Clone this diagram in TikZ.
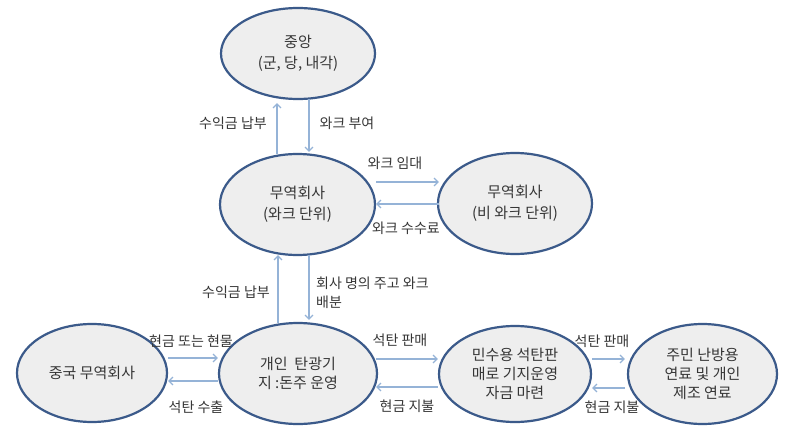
\documentclass[tikz,border=0pt]{standalone}
\usepackage{fontspec}
\setmainfont{Noto Sans CJK KR}
\usetikzlibrary{shapes.geometric,arrows.meta}
\definecolor{ebord}{HTML}{3B5A8A}
\definecolor{efill}{HTML}{EEEEEE}
\definecolor{arrc}{HTML}{95B3D7}
\definecolor{txt}{HTML}{363636}
\tikzset{
  oval/.style={ellipse, draw=ebord, fill=efill, line width=2.2pt, inner sep=0pt,
    text=txt, align=center, font=\fontsize{15}{21}\selectfont},
  arr/.style={draw=arrc, line width=1.2pt, -{Straight Barb[length=4pt,width=8pt]}},
  lbl/.style={text=txt, font=\fontsize{14}{18}\selectfont, inner sep=0pt}
}
\begin{document}
\begin{tikzpicture}[x=1pt,y=-1pt]
\useasboundingbox[fill=white] (0,0) rectangle (800,441);
% nodes
\node[oval, minimum width=154pt, minimum height=91pt] (n1) at (298,53.5) {중앙\\(군, 당, 내각)};
\node[oval, minimum width=155pt, minimum height=101pt] (n2) at (297.5,204.5) {무역회사\\(와크 단위)};
\node[oval, minimum width=154pt, minimum height=101pt] (n3) at (515,203.5) {무역회사\\(비 와크 단위)};
\node[oval, minimum width=150pt, minimum height=98pt] (n4) at (92,373) {중국 무역회사};
\node[oval, minimum width=158pt, minimum height=101pt, font=\fontsize{15}{18.5}\selectfont] (n5) at (298,373.5) {개인\ \ 탄광기\\지 :돈주 운영};
\node[oval, minimum width=152pt, minimum height=96pt, font=\fontsize{15}{19}\selectfont] (n6) at (515,374) {민수용 석탄판\\매로 기지운영\\자금 마련};
\node[oval, minimum width=149pt, minimum height=100pt, font=\fontsize{15}{19}\selectfont] (n7) at (702.5,374) {주민 난방용\\연료 및 개인\\제조 연료};
% vertical arrows top
\draw[arr] ([xshift=-20.5pt,yshift=-1pt]n2.north) -- ([xshift=-21pt,yshift=-3pt]n1.south);
\draw[arr] ([xshift=11pt,yshift=1pt]n1.south) -- ([xshift=11.5pt,yshift=1pt]n2.north);
% vertical arrows bottom
\draw[arr] ([xshift=-20pt,yshift=-1pt]n5.north) -- ([xshift=-19.5pt,yshift=1pt]n2.south);
\draw[arr] ([xshift=11.5pt,yshift=1.5pt]n2.south) -- ([xshift=11pt,yshift=2pt]n5.north);
% horizontal n2-n3
\draw[arr] ([yshift=22.5pt]n2.east) -- ([xshift=2pt,yshift=21.5pt]n3.west);
\draw[arr] ([xshift=2pt,yshift=-0.5pt]n3.west) -- ([yshift=0.5pt]n2.east);
% n4-n5
\draw[arr] ([yshift=15pt]n4.east) -- ([yshift=15.5pt]n5.west);
\draw[arr] ([yshift=-7.5pt]n5.west) -- ([yshift=-8pt]n4.east);
% n5-n6
\draw[arr] ([xshift=-2pt,yshift=14.5pt]n5.east) -- ([yshift=15pt]n6.west);
\draw[arr] ([yshift=-13pt]n6.west) -- ([xshift=-2pt,yshift=-13.5pt]n5.east);
% n6-n7
\draw[arr] ([yshift=15pt]n6.east) -- ([xshift=-2pt,yshift=15pt]n7.west);
\draw[arr] ([xshift=-2pt,yshift=-14pt]n7.west) -- ([yshift=-14pt]n6.east);
% labels
\node[lbl] (l1) at (233,123) {수익금 납부};
\node[lbl] (l2) at (347,123) {와크 부여};
\node[lbl] (l3) at (395,163) {와크 임대};
\node[lbl] (l4) at (406,228) {와크 수수료};
\node[lbl] (l5) at (236,292) {수익금 납부};
\node[lbl, anchor=west, align=left, font=\fontsize{14}{19}\selectfont] (l6) at (316,292.5) {회사 명의 주고 와크\\배분};
\node[lbl] (l7) at (191,341) {현금 또는 현물};
\node[lbl] (l8) at (196,407) {석탄 수출};
\node[lbl] (l9) at (400,340) {석탄 판매};
\node[lbl] (l10) at (407,406) {현금 지불};
\node[lbl] (l11) at (602,341) {석탄 판매};
\node[lbl] (l12) at (612,407) {현금 지불};
\end{tikzpicture}
\end{document}
